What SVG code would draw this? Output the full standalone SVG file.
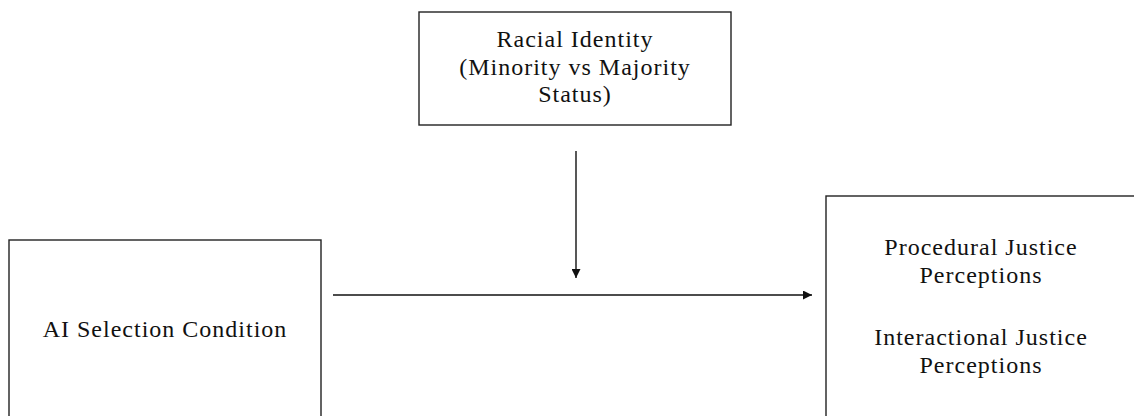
<svg xmlns="http://www.w3.org/2000/svg" width="1134" height="416" viewBox="0 0 1134 416">
<style>
.box{fill:#fff;stroke:#222;stroke-width:1.4}
.t{font-size:24px;letter-spacing:1px;fill:#111;text-anchor:middle}
.c{stroke:#111;stroke-width:1.4;fill:none}
</style>
<defs>
<marker id="ah" viewBox="0 0 10 10" refX="10" refY="5" markerWidth="9" markerHeight="9" markerUnits="userSpaceOnUse" orient="auto">
<path d="M0,0 L10,5 L0,10 z" fill="#111"/>
</marker>
</defs>
<rect width="1134" height="416" fill="#fff"/>
<g font-family="Liberation Serif, Times New Roman, Tinos, DejaVu Serif, Noto Serif, FreeSerif, serif">
<g id="racial-identity">
<rect class="box" x="419" y="12" width="312" height="113"/>
<text class="t" x="575" y="47">Racial Identity</text>
<text class="t" x="575" y="75">(Minority vs Majority</text>
<text class="t" x="575" y="102">Status)</text>
</g>
<g id="ai-selection">
<rect class="box" x="9" y="240" width="312" height="200"/>
<text class="t" x="165" y="337">AI Selection Condition</text>
</g>
<g id="justice">
<rect class="box" x="826" y="196" width="340" height="240"/>
<text class="t" x="981" y="255">Procedural Justice</text>
<text class="t" x="981" y="283">Perceptions</text>
<text class="t" x="981" y="345">Interactional Justice</text>
<text class="t" x="981" y="373">Perceptions</text>
</g>
</g>
<g id="connectors">
<line class="c" x1="576" y1="151" x2="576" y2="278" marker-end="url(#ah)"/>
<line class="c" x1="333" y1="295" x2="812" y2="295" marker-end="url(#ah)"/>
</g>
</svg>
